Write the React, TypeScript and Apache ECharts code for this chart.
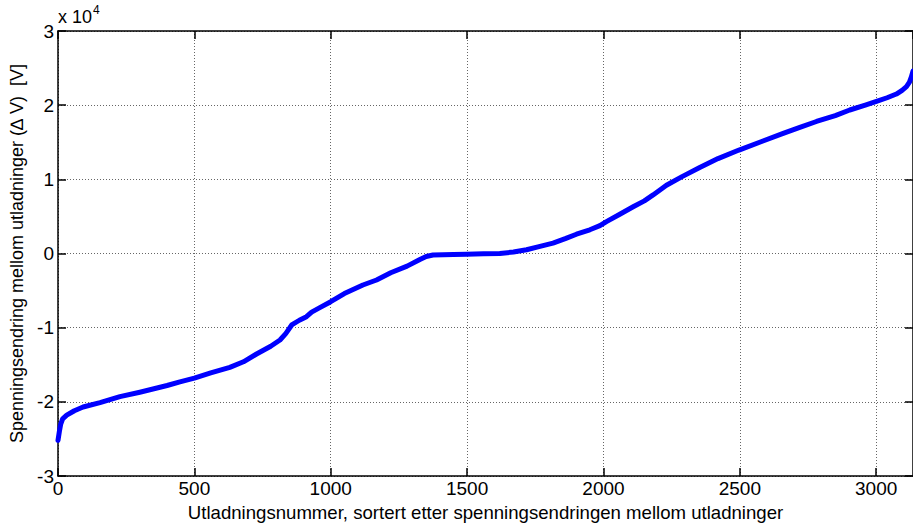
import React, { useEffect, useRef } from "react";
import * as echarts from "echarts";

const sampleIndex: number[] = [
  0, 5, 10, 17, 32, 60, 92, 154, 227, 300, 400, 447, 500, 560, 630, 680, 728, 780, 814, 835, 857, 885,
  911, 930, 960, 1000, 1050, 1118, 1168, 1220, 1280, 1327, 1350, 1375, 1450, 1498, 1560, 1620, 1670,
  1718, 1760, 1815, 1860, 1901, 1950, 1987, 2011, 2060, 2109, 2150, 2182, 2231, 2290, 2353, 2420, 2497,
  2580, 2659, 2720, 2781, 2850, 2903, 2960, 3001, 3040, 3074, 3095, 3111, 3122, 3129, 3135,
];

const voltageChange: number[] = [
  -25200, -24000, -23000, -22300, -21800, -21200, -20700, -20100, -19300, -18700, -17800, -17300,
  -16800, -16100, -15350, -14600, -13550, -12500, -11660, -10800, -9640, -9000, -8520, -7900, -7300,
  -6500, -5400, -4250, -3570, -2600, -1700, -800, -400, -200, -150, -100, -50, 0, 200, 500, 900, 1400,
  2000, 2600, 3200, 3750, 4300, 5300, 6300, 7100, 7900, 9200, 10400, 11600, 12800, 13950, 15100,
  16200, 17000, 17800, 18600, 19350, 20000, 20500, 21000, 21500, 22000, 22500, 23100, 23800, 24600,
];

const xTicks: number[] = [0, 500, 1000, 1500, 2000, 2500, 3000];
const yTickLabels: string[] = ["-3", "-2", "-1", "0", "1", "2", "3"];

const xTitle = "Utladningsnummer, sortert etter spenningsendringen mellom utladninger";
const yTitle = "Spenningsendring mellom utladninger (\u2206 V)  [V]";

const FONT = "'Liberation Sans', Arial, Helvetica, sans-serif";

export default function App() {
  const ref = useRef<HTMLDivElement>(null);
  useEffect(() => {
    if (!ref.current) return;
    const chart = echarts.init(ref.current, undefined, { renderer: "svg" });
    const data = sampleIndex.map((n, i) => [n, voltageChange[i]]);
    const gridLine = { show: true, lineStyle: { color: "#666", type: [1, 2] as any, width: 1 } };
    const axisLine = { show: true, onZero: false, lineStyle: { color: "#000", width: 1.5 } };
    const tick = { show: true, inside: true, length: 8, lineStyle: { color: "#000", width: 1.5 } };
    chart.setOption({
      animation: false,
      backgroundColor: "#fff",
      textStyle: { fontFamily: FONT },
      grid: { left: 58, right: 0, top: 31, bottom: 51, containLabel: false },
      xAxis: [
        {
          type: "value",
          min: 0,
          max: 3135,
          interval: 500,
          axisLine,
          axisTick: tick,
          splitLine: gridLine,
          axisLabel: {
            color: "#000",
            fontSize: 19,
            fontFamily: FONT,
            margin: 3,
            showMaxLabel: false,
            formatter: (v: number) => (xTicks.includes(v) ? String(v) : ""),
          },
          name: xTitle,
          nameLocation: "middle",
          nameGap: 24,
          nameTextStyle: { color: "#000", fontSize: 18.6, fontFamily: FONT, verticalAlign: "top" },
        },
        {
          type: "value",
          position: "top",
          min: 0,
          max: 3135,
          interval: 500,
          axisLine,
          axisTick: tick,
          splitLine: { show: false },
          axisLabel: { show: false },
        },
      ],
      yAxis: [
        {
          type: "value",
          min: -30000,
          max: 30000,
          interval: 10000,
          axisLine,
          axisTick: tick,
          splitLine: gridLine,
          axisLabel: {
            color: "#000",
            fontSize: 19,
            fontFamily: FONT,
            margin: 4,
            formatter: (v: number) => yTickLabels[Math.round(v / 10000) + 3],
          },
          name: yTitle,
          nameLocation: "middle",
          nameGap: 27,
          nameRotate: 90,
          nameTextStyle: { color: "#000", fontSize: 18, fontFamily: FONT },
        },
        {
          type: "value",
          position: "right",
          min: -30000,
          max: 30000,
          interval: 10000,
          axisLine,
          axisTick: tick,
          splitLine: { show: false },
          axisLabel: { show: false },
        },
      ],
      graphic: [
        {
          type: "text",
          left: 58,
          top: 4,
          style: {
            text: "{a|x 10}{b|4}",
            rich: {
              a: { fontSize: 18, fontFamily: FONT, fill: "#000", verticalAlign: "bottom" },
              b: { fontSize: 12, fontFamily: FONT, fill: "#000", verticalAlign: "top", padding: [0, 0, 10, 1] },
            },
          },
        },
      ],
      series: [
        {
          type: "line",
          data,
          showSymbol: false,
          smooth: false,
          clip: true,
          lineStyle: { color: "#0000ff", width: 5, join: "round", cap: "round" },
          itemStyle: { color: "#0000ff" },
        },
      ],
    });
    return () => chart.dispose();
  }, []);
  return (
    <div
      ref={ref}
      style={{ position: "fixed", left: 0, top: 0, width: 913, height: 527, background: "#fff" }}
    />
  );
}
